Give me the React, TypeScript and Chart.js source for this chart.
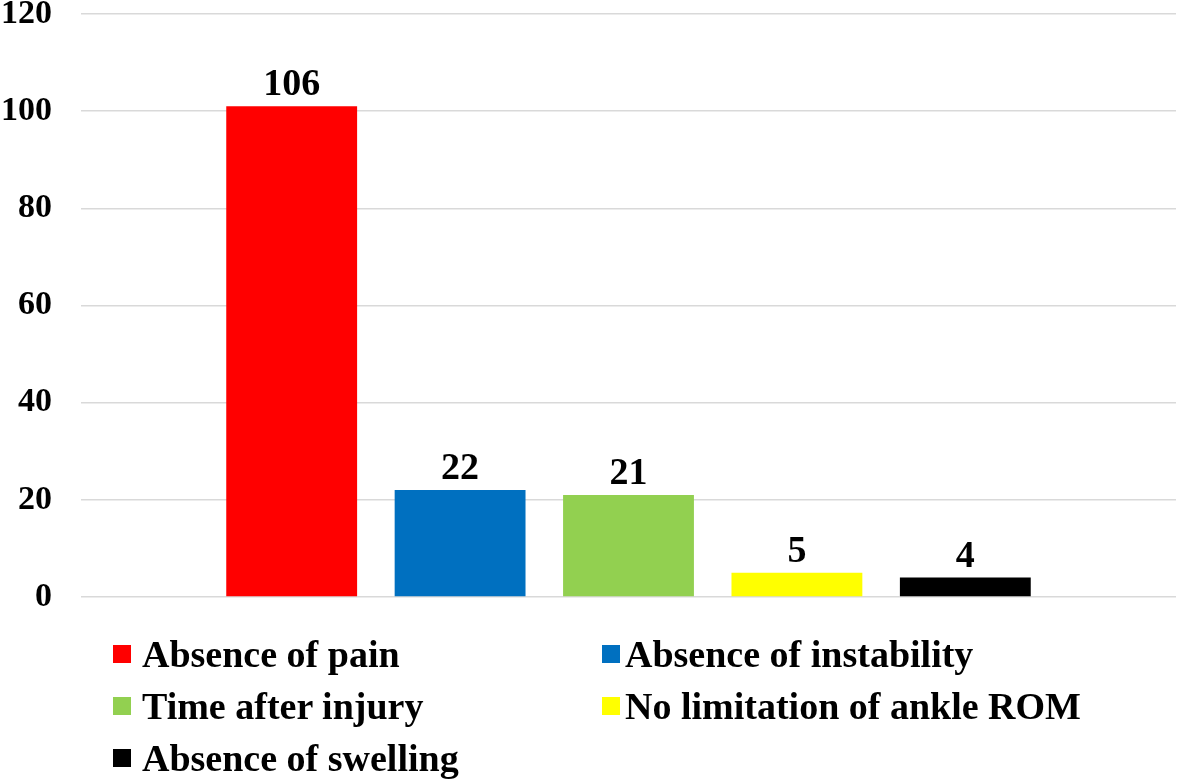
import React, { useEffect, useRef } from "react";
import { Chart, registerables } from "chart.js";

Chart.register(...registerables);

const seriesNames = [
  "Absence of pain",
  "Absence of instability",
  "Time after injury",
  "No limitation of ankle ROM",
  "Absence of swelling",
];
const seriesValues = [101, 22, 21, 5, 4];
const valueLabels = ["106", "22", "21", "5", "4"];
const seriesColors = ["#FF0000", "#0070C0", "#92D050", "#FFFF00", "#000000"];
const yTicks = [0, 20, 40, 60, 80, 100, 120];

const FONT = '"Liberation Serif", "Times New Roman", serif';

const labelPlugin = {
  id: "valueLabels",
  afterDatasetsDraw(chart: any) {
    const ctx = chart.ctx;
    ctx.save();
    ctx.font = `bold 38px ${FONT}`;
    ctx.fillStyle = "#000";
    ctx.textAlign = "center";
    ctx.textBaseline = "alphabetic";
    chart.data.datasets.forEach((ds: any, i: number) => {
      const meta = chart.getDatasetMeta(i);
      const bar = meta.data[0];
      if (!bar) return;
      ctx.fillText(valueLabels[i], bar.x, bar.y - 11);
    });
    ctx.restore();
  },
};

export default function App() {
  const ref = useRef<HTMLCanvasElement>(null);
  useEffect(() => {
    if (!ref.current) return;
    const chart = new Chart(ref.current, {
      type: "bar",
      data: {
        labels: [""],
        datasets: seriesNames.map((name, i) => ({
          label: name,
          data: [seriesValues[i]],
          backgroundColor: seriesColors[i],
          borderWidth: 0,
          categoryPercentage: 0.769,
          barPercentage: 0.777,
        })),
      },
      options: {
        animation: false,
        responsive: true,
        maintainAspectRatio: false,
        layout: { padding: { left: 0, right: 4, top: 14, bottom: 185 } },
        plugins: {
          legend: { display: false },
          tooltip: { enabled: false },
        },
        scales: {
          x: { display: false },
          y: {
            min: 0,
            max: 120,
            afterBuildTicks(scale: any) {
              scale.ticks = yTicks.map((v) => ({ value: v }));
            },
            afterFit(scale: any) {
              scale.width = 81;
              scale.paddingTop = 0;
              scale.paddingBottom = 0;
            },
            border: { display: false },
            grid: { color: "#d9d9d9", lineWidth: 1.5, drawTicks: false },
            ticks: {
              padding: 29,
              color: "#000",
              font: { family: FONT, size: 34, weight: "bold" },
            },
          },
        },
      },
      plugins: [labelPlugin],
    } as any);
    return () => chart.destroy();
  }, []);

  const legendPos = [
    { left: 113, top: 654 },
    { left: 602, top: 654 },
    { left: 113, top: 706 },
    { left: 602, top: 706 },
    { left: 113, top: 758 },
  ];

  return (
    <div style={{ position: "absolute", left: 0, top: 0, width: 1180, height: 782, background: "#fff" }}>
      <canvas ref={ref} />
      {seriesNames.map((name, i) => (
        <div
          key={name}
          style={{
            position: "absolute",
            left: legendPos[i].left,
            top: legendPos[i].top,
            transform: "translateY(-50%)",
            display: "flex",
            alignItems: "center",
            whiteSpace: "nowrap",
            fontFamily: FONT,
            fontWeight: "bold",
            fontSize: 38,
            lineHeight: 1,
            color: "#000",
          }}
        >
          <span style={{ display: "inline-block", width: 18, height: 18, background: seriesColors[i], marginRight: i % 2 === 0 ? 11 : 5 }} />
          <span>{name}</span>
        </div>
      ))}
    </div>
  );
}
